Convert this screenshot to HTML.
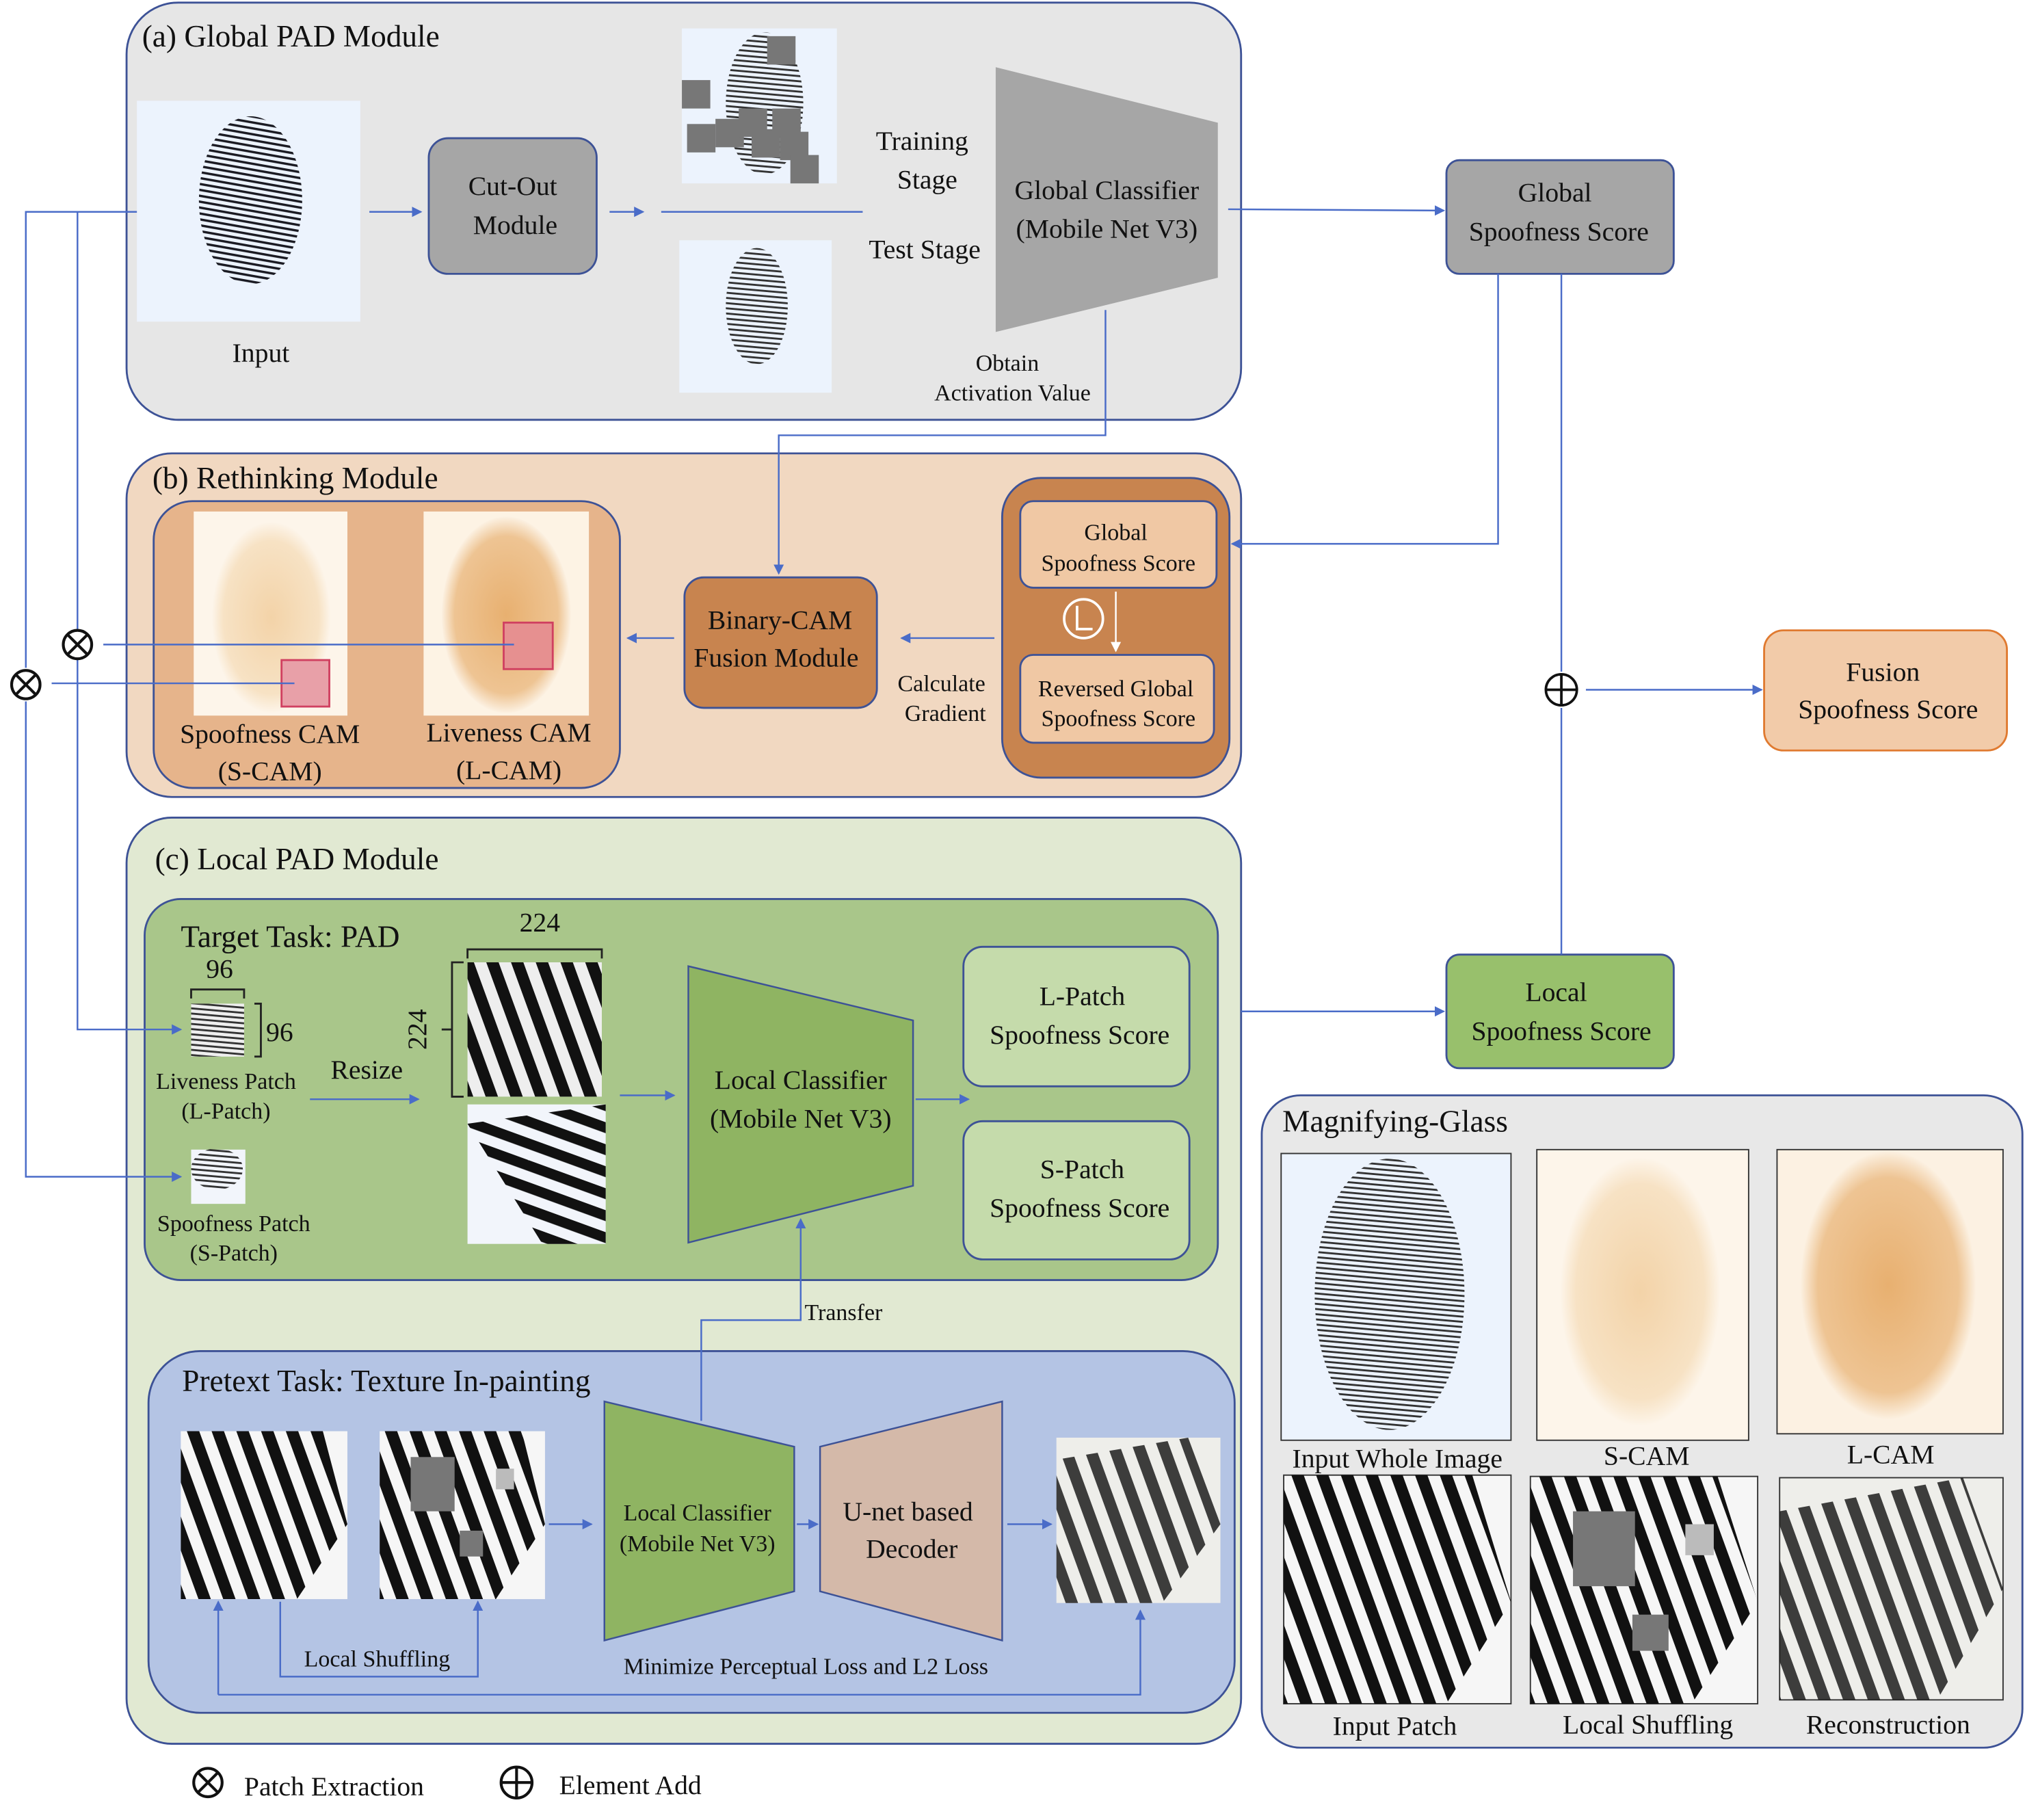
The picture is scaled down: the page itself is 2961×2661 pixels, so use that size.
<!DOCTYPE html>
<html><head><meta charset="utf-8"><style>
html,body{margin:0;padding:0;background:#fff}
svg{display:block}
text{font-family:"Liberation Serif",serif;fill:#111}
</style></head><body>
<svg width="2961" height="2661" viewBox="0 0 1568 1409" preserveAspectRatio="none" xmlns="http://www.w3.org/2000/svg">
<defs>
<pattern id="fp" width="4.5" height="4.5" patternUnits="userSpaceOnUse" patternTransform="rotate(10)"><rect width="4.5" height="1.8" fill="#1a1a22"/></pattern>
<pattern id="fpl" width="4" height="4" patternUnits="userSpaceOnUse" patternTransform="rotate(5)"><rect width="4" height="1.5" fill="#333"/></pattern>
<pattern id="big" width="18" height="18" patternUnits="userSpaceOnUse" patternTransform="rotate(70)"><rect width="18" height="9" fill="#111"/></pattern>
<pattern id="big2" width="16" height="16" patternUnits="userSpaceOnUse" patternTransform="rotate(20)"><rect width="16" height="8" fill="#111"/></pattern>
<radialGradient id="cams"><stop offset="0" stop-color="#f3d3a8"/><stop offset="0.8" stop-color="#f7e2c4"/><stop offset="1" stop-color="#fdf5ea"/></radialGradient>
<radialGradient id="caml"><stop offset="0" stop-color="#e8b070"/><stop offset="0.8" stop-color="#eec493"/><stop offset="1" stop-color="#fcf1e2"/></radialGradient>
<marker id="ar" markerWidth="8" markerHeight="8" refX="7" refY="4" orient="auto" markerUnits="userSpaceOnUse"><path d="M0,0 L8,4 L0,8 z" fill="#4a6cc8"/></marker>
<marker id="arw" markerWidth="8" markerHeight="8" refX="7" refY="4" orient="auto" markerUnits="userSpaceOnUse"><path d="M0,0 L8,4 L0,8 z" fill="#fff"/></marker>
</defs>

<!-- Global module -->
<rect x="98" y="2" width="863" height="323" rx="40" fill="#e6e6e6" stroke="#3d5296" stroke-width="1.5"/>
<text x="110" y="36" font-size="24">(a) Global PAD Module</text>
<rect x="106" y="78" width="173" height="171" fill="#ecf3fd"/>
<ellipse cx="194" cy="155" rx="40" ry="65" fill="url(#fp)"/>
<text x="202" y="280" font-size="21" text-anchor="middle">Input</text>
<rect x="332" y="107" width="130" height="105" rx="15" fill="#a6a6a6" stroke="#3d5296" stroke-width="1.5"/>
<text x="397" y="151" font-size="21" text-anchor="middle">Cut-Out</text>
<text x="399" y="181" font-size="21" text-anchor="middle">Module</text>
<rect x="528" y="22" width="120" height="120" fill="#ecf3fd"/>
<ellipse cx="592" cy="80" rx="30" ry="55" fill="url(#fpl)"/>
<g fill="#777"><rect x="528" y="62" width="22" height="22"/><rect x="594" y="28" width="22" height="22"/><rect x="532" y="96" width="22" height="22"/><rect x="554" y="92" width="22" height="22"/><rect x="572" y="84" width="22" height="22"/><rect x="598" y="84" width="22" height="22"/><rect x="604" y="102" width="22" height="22"/><rect x="612" y="120" width="22" height="22"/><rect x="582" y="100" width="22" height="22"/></g>
<rect x="526" y="186" width="118" height="118" fill="#ecf3fd"/>
<ellipse cx="586" cy="237" rx="24" ry="45" fill="url(#fpl)"/>
<polygon points="771,52 943,95 943,215 771,257" fill="#a6a6a6"/>
<text x="857" y="154" font-size="21" text-anchor="middle">Global Classifier</text>
<text x="857" y="184" font-size="21" text-anchor="middle">(Mobile Net V3)</text>
<text x="714" y="116" font-size="21" text-anchor="middle">Training</text>
<text x="718" y="146" font-size="21" text-anchor="middle">Stage</text>
<text x="716" y="200" font-size="21" text-anchor="middle">Test Stage</text>
<text x="780" y="287" font-size="18" text-anchor="middle">Obtain</text>
<text x="784" y="310" font-size="18" text-anchor="middle">Activation Value</text>
<rect x="1120" y="124" width="176" height="88" rx="10" fill="#a6a6a6" stroke="#3d5296" stroke-width="1.5"/>
<text x="1204" y="156" font-size="21" text-anchor="middle">Global</text>
<text x="1207" y="186" font-size="21" text-anchor="middle">Spoofness Score</text>

<!-- Rethinking -->
<rect x="98" y="351" width="863" height="266" rx="35" fill="#f1d8c1" stroke="#3d5296" stroke-width="1.5"/>
<text x="118" y="378" font-size="24">(b) Rethinking Module</text>
<rect x="119" y="388" width="361" height="222" rx="30" fill="#e6b48b" stroke="#3d5296" stroke-width="1.5"/>
<rect x="150" y="396" width="119" height="158" fill="#fdf5ea"/>
<ellipse cx="210" cy="478" rx="46" ry="74" fill="url(#cams)"/>
<rect x="328" y="396" width="128" height="158" fill="#fdf3e4"/>
<ellipse cx="392" cy="476" rx="50" ry="76" fill="url(#caml)"/>
<rect x="218" y="511" width="37" height="36" fill="#e8a0a8" stroke="#d04060" stroke-width="1.5"/>
<rect x="390" y="482" width="38" height="36" fill="#e69090" stroke="#d04060" stroke-width="1.5"/>
<text x="209" y="575" font-size="21" text-anchor="middle">Spoofness CAM</text>
<text x="209" y="604" font-size="21" text-anchor="middle">(S-CAM)</text>
<text x="394" y="574" font-size="21" text-anchor="middle">Liveness CAM</text>
<text x="394" y="603" font-size="21" text-anchor="middle">(L-CAM)</text>
<rect x="530" y="447" width="149" height="101" rx="15" fill="#c8844f" stroke="#3d5296" stroke-width="1.5"/>
<text x="604" y="487" font-size="21" text-anchor="middle">Binary-CAM</text>
<text x="601" y="516" font-size="21" text-anchor="middle">Fusion Module</text>
<text x="729" y="535" font-size="18" text-anchor="middle">Calculate</text>
<text x="732" y="558" font-size="18" text-anchor="middle">Gradient</text>
<rect x="776" y="370" width="176" height="232" rx="30" fill="#c8844f" stroke="#3d5296" stroke-width="1.5"/>
<rect x="790" y="388" width="152" height="67" rx="10" fill="#f0c8a4" stroke="#3d5296" stroke-width="1.5"/>
<text x="864" y="418" font-size="18" text-anchor="middle">Global</text>
<text x="866" y="442" font-size="18" text-anchor="middle">Spoofness Score</text>
<rect x="790" y="507" width="150" height="68" rx="10" fill="#f0c8a4" stroke="#3d5296" stroke-width="1.5"/>
<text x="864" y="539" font-size="18" text-anchor="middle">Reversed Global</text>
<text x="866" y="562" font-size="18" text-anchor="middle">Spoofness Score</text>
<line x1="864" y1="458" x2="864" y2="504" stroke="#fff" stroke-width="1.3" marker-end="url(#arw)"/>
<circle cx="839" cy="479" r="15" fill="none" stroke="#fff" stroke-width="2"/>
<polyline points="834,469 834,487 846,487" fill="none" stroke="#fff" stroke-width="2"/>

<!-- Local module -->
<rect x="98" y="633" width="863" height="717" rx="35" fill="#e1e9d2" stroke="#3d5296" stroke-width="1.5"/>
<text x="120" y="673" font-size="24">(c) Local PAD Module</text>
<rect x="112" y="696" width="831" height="295" rx="28" fill="#a9c68a" stroke="#3d5296" stroke-width="1.5"/>
<text x="140" y="733" font-size="24">Target Task: PAD</text>
<text x="170" y="757" font-size="21" text-anchor="middle">96</text>
<rect x="148" y="777" width="41" height="41" fill="#eee"/><rect x="148" y="777" width="41" height="41" fill="url(#fpl)"/>
<path d="M148,773 L148,766 L189,766 L189,773 M197,777 L202,777 L202,818 L197,818" fill="none" stroke="#222" stroke-width="1.5"/>
<text x="206" y="806" font-size="21">96</text>
<text x="175" y="843" font-size="18" text-anchor="middle">Liveness Patch</text>
<text x="175" y="866" font-size="18" text-anchor="middle">(L-Patch)</text>
<text x="284" y="835" font-size="21" text-anchor="middle">Resize</text>
<rect x="148" y="890" width="42" height="42" fill="#f2f5fb"/><ellipse cx="168" cy="905" rx="20" ry="16" fill="url(#fpl)"/>
<text x="181" y="953" font-size="18" text-anchor="middle">Spoofness Patch</text>
<text x="181" y="976" font-size="18" text-anchor="middle">(S-Patch)</text>
<rect x="362" y="745" width="104" height="104" fill="#eee"/><rect x="362" y="745" width="104" height="104" fill="url(#big)"/>
<rect x="362" y="855" width="107" height="108" fill="#f2f5fb"/><path d="M362,870 L469,855 L469,963 L420,963 Z" fill="url(#big2)"/>
<path d="M362,742 L362,735 L466,735 L466,742 M359,745 L350,745 L350,849 L359,849 M350,797 L342,797" fill="none" stroke="#222" stroke-width="1.5"/>
<text x="418" y="721" font-size="21" text-anchor="middle">224</text>
<text x="330" y="797" font-size="21" text-anchor="middle" transform="rotate(-90 330 797)">224</text>
<polygon points="533,748 707,790 707,918 533,962" fill="#8fb462" stroke="#3d5296" stroke-width="1.3"/>
<text x="620" y="843" font-size="21" text-anchor="middle">Local Classifier</text>
<text x="620" y="873" font-size="21" text-anchor="middle">(Mobile Net V3)</text>
<rect x="746" y="733" width="175" height="108" rx="15" fill="#c5dbab" stroke="#3d5296" stroke-width="1.5"/>
<text x="838" y="778" font-size="21" text-anchor="middle">L-Patch</text>
<text x="836" y="808" font-size="21" text-anchor="middle">Spoofness Score</text>
<rect x="746" y="868" width="175" height="107" rx="15" fill="#c5dbab" stroke="#3d5296" stroke-width="1.5"/>
<text x="838" y="912" font-size="21" text-anchor="middle">S-Patch</text>
<text x="836" y="942" font-size="21" text-anchor="middle">Spoofness Score</text>
<text x="623" y="1022" font-size="18">Transfer</text>

<rect x="115" y="1046" width="841" height="280" rx="40" fill="#b4c4e4" stroke="#3d5296" stroke-width="1.5"/>
<text x="141" y="1077" font-size="24">Pretext Task: Texture In-painting</text>
<rect x="140" y="1108" width="129" height="130" fill="#f6f6f6"/><path d="M140,1108 L250,1108 L269,1180 L230,1238 L140,1238Z" fill="url(#big)"/>
<rect x="294" y="1108" width="128" height="130" fill="#f6f6f6"/><path d="M294,1108 L404,1108 L422,1180 L384,1238 L294,1238Z" fill="url(#big)"/>
<rect x="318" y="1128" width="34" height="42" fill="#777"/><rect x="356" y="1185" width="18" height="20" fill="#777"/><rect x="384" y="1137" width="14" height="16" fill="#bbb"/>
<polygon points="468,1085 615,1120 615,1232 468,1270" fill="#8fb462" stroke="#3d5296" stroke-width="1.3"/>
<text x="540" y="1177" font-size="18" text-anchor="middle">Local Classifier</text>
<text x="540" y="1201" font-size="18" text-anchor="middle">(Mobile Net V3)</text>
<polygon points="635,1120 776,1085 776,1270 635,1232" fill="#d4b9a9" stroke="#3d5296" stroke-width="1.3"/>
<text x="703" y="1177" font-size="21" text-anchor="middle">U-net based</text>
<text x="706" y="1206" font-size="21" text-anchor="middle">Decoder</text>
<rect x="818" y="1113" width="127" height="128" fill="#eeeeea"/><path d="M818,1130 L920,1113 L945,1180 L900,1241 L818,1241Z" fill="url(#big)" opacity="0.8"/>
<text x="292" y="1290" font-size="18" text-anchor="middle">Local Shuffling</text>
<text x="624" y="1296" font-size="18" text-anchor="middle">Minimize Perceptual Loss and L2 Loss</text>

<rect x="1120" y="739" width="176" height="88" rx="10" fill="#98c06c" stroke="#3d5296" stroke-width="1.5"/>
<text x="1205" y="775" font-size="21" text-anchor="middle">Local</text>
<text x="1209" y="805" font-size="21" text-anchor="middle">Spoofness Score</text>
<rect x="1366" y="488" width="188" height="93" rx="15" fill="#f2cba9" stroke="#e07a30" stroke-width="1.5"/>
<text x="1458" y="527" font-size="21" text-anchor="middle">Fusion</text>
<text x="1462" y="556" font-size="21" text-anchor="middle">Spoofness Score</text>

<!-- connectors -->
<g stroke="#4a6cc8" stroke-width="1.3" fill="none">
<polyline points="106,164 20,164 20,517"/>
<polyline points="20,543 20,911 140,911" marker-end="url(#ar)"/>
<polyline points="60,164 60,487"/>
<polyline points="60,511 60,797 140,797" marker-end="url(#ar)"/>
<line x1="40" y1="529" x2="228" y2="529"/>
<line x1="80" y1="499" x2="398" y2="499"/>
<line x1="286" y1="164" x2="326" y2="164" marker-end="url(#ar)"/>
<line x1="472" y1="164" x2="498" y2="164" marker-end="url(#ar)"/>
<line x1="512" y1="164" x2="668" y2="164"/>
<line x1="951" y1="162" x2="1118" y2="163" marker-end="url(#ar)"/>
<polyline points="856,240 856,337 603,337 603,444" marker-end="url(#ar)"/>
<polyline points="1160,212 1160,421 954,421" marker-end="url(#ar)"/>
<line x1="1209" y1="212" x2="1209" y2="520"/>
<line x1="1209" y1="548" x2="1209" y2="739"/>
<line x1="1228" y1="534" x2="1364" y2="534" marker-end="url(#ar)"/>
<line x1="961" y1="783" x2="1118" y2="783" marker-end="url(#ar)"/>
<line x1="522" y1="494" x2="486" y2="494" marker-end="url(#ar)"/>
<line x1="770" y1="494" x2="698" y2="494" marker-end="url(#ar)"/>
<line x1="240" y1="851" x2="324" y2="851" marker-end="url(#ar)"/>
<line x1="480" y1="848" x2="522" y2="848" marker-end="url(#ar)"/>
<line x1="709" y1="851" x2="750" y2="851" marker-end="url(#ar)"/>
<polyline points="543,1100 543,1022 620,1022 620,944" marker-end="url(#ar)"/>
<line x1="425" y1="1180" x2="458" y2="1180" marker-end="url(#ar)"/>
<line x1="617" y1="1180" x2="633" y2="1180" marker-end="url(#ar)"/>
<line x1="780" y1="1180" x2="814" y2="1180" marker-end="url(#ar)"/>
<polyline points="217,1240 217,1298 370,1298 370,1240" marker-end="url(#ar)"/>
<polyline points="169,1312 169,1240" marker-end="url(#ar)"/>
<polyline points="169,1312 883,1312 883,1247" marker-end="url(#ar)"/>
</g>

<circle cx="1209" cy="534" r="12" fill="#fff" stroke="#111" stroke-width="2"/>
<line x1="1197" y1="534" x2="1221" y2="534" stroke="#111" stroke-width="2"/><line x1="1209" y1="522" x2="1209" y2="546" stroke="#111" stroke-width="2"/>
<g stroke="#111" stroke-width="2.2" fill="#fff">
<circle cx="60" cy="499" r="11"/><circle cx="20" cy="530" r="11"/>
</g>
<g stroke="#111" stroke-width="2.2"><line x1="52" y1="491" x2="68" y2="507"/><line x1="68" y1="491" x2="52" y2="507"/><line x1="12" y1="522" x2="28" y2="538"/><line x1="28" y1="522" x2="12" y2="538"/></g>

<!-- Magnifying glass -->
<rect x="977" y="848" width="589" height="505" rx="30" fill="#e8e8e8" stroke="#3d5296" stroke-width="1.5"/>
<text x="993" y="876" font-size="24">Magnifying-Glass</text>
<rect x="992" y="893" width="178" height="222" fill="#ecf3fd" stroke="#333"/>
<ellipse cx="1076" cy="1002" rx="58" ry="105" fill="url(#fpl)"/>
<rect x="1190" y="890" width="164" height="225" fill="#fdf5ea" stroke="#333"/>
<ellipse cx="1270" cy="1000" rx="62" ry="104" fill="url(#cams)"/>
<rect x="1376" y="890" width="175" height="220" fill="#fcf1e2" stroke="#333"/>
<ellipse cx="1462" cy="995" rx="68" ry="104" fill="url(#caml)"/>
<text x="1082" y="1136" font-size="21" text-anchor="middle">Input Whole Image</text>
<text x="1275" y="1134" font-size="21" text-anchor="middle">S-CAM</text>
<text x="1464" y="1133" font-size="21" text-anchor="middle">L-CAM</text>
<rect x="994" y="1142" width="176" height="177" fill="#f6f6f6" stroke="#333"/><path d="M994,1142 L1140,1142 L1170,1240 L1120,1319 L994,1319Z" fill="url(#big)"/>
<rect x="1185" y="1143" width="176" height="176" fill="#f6f6f6" stroke="#333"/><path d="M1185,1143 L1330,1143 L1361,1240 L1310,1319 L1185,1319Z" fill="url(#big)"/>
<rect x="1218" y="1170" width="48" height="58" fill="#777"/><rect x="1264" y="1250" width="28" height="28" fill="#777"/><rect x="1305" y="1180" width="22" height="24" fill="#bbb"/>
<rect x="1378" y="1144" width="173" height="172" fill="#eeeeea" stroke="#333"/><path d="M1378,1170 L1520,1144 L1551,1230 L1500,1316 L1378,1316Z" fill="url(#big)" opacity="0.8"/>
<text x="1080" y="1343" font-size="21" text-anchor="middle">Input Patch</text>
<text x="1276" y="1342" font-size="21" text-anchor="middle">Local Shuffling</text>
<text x="1462" y="1342" font-size="21" text-anchor="middle">Reconstruction</text>

<!-- legend -->
<circle cx="161" cy="1380" r="11" fill="none" stroke="#111" stroke-width="2.2"/>
<line x1="153" y1="1372" x2="169" y2="1388" stroke="#111" stroke-width="2.2"/><line x1="169" y1="1372" x2="153" y2="1388" stroke="#111" stroke-width="2.2"/>
<text x="189" y="1390" font-size="21">Patch Extraction</text>
<circle cx="400" cy="1380" r="12" fill="none" stroke="#111" stroke-width="2.2"/>
<line x1="388" y1="1380" x2="412" y2="1380" stroke="#111" stroke-width="2.2"/><line x1="400" y1="1368" x2="400" y2="1392" stroke="#111" stroke-width="2.2"/>
<text x="433" y="1389" font-size="21">Element Add</text>
</svg>
</body></html>
